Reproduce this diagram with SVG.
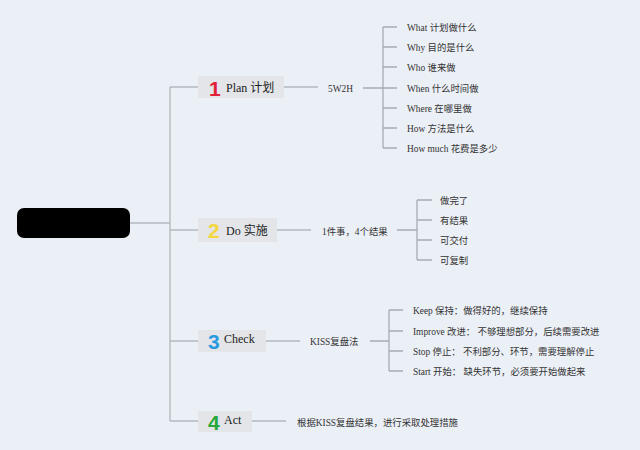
<svg xmlns="http://www.w3.org/2000/svg" width="640" height="450" viewBox="0 0 640 450">
<style>
.bg{fill:#ebeff6}
.box{fill:#e3e5e8}
.trunk{stroke:#b4b8be;stroke-width:1.3;fill:none}
.br{stroke:#a8acb2;stroke-width:1.3;fill:none}
.lbl{font-family:"Liberation Serif","Noto Sans CJK SC",serif;font-size:12px;fill:#222}
.sub{font-family:"Liberation Serif","Noto Sans CJK SC",serif;font-size:9.4px;fill:#333}
.num{font-family:"Liberation Sans",sans-serif;font-weight:bold;font-size:21px}
</style>
<rect class="bg" x="0" y="0" width="640" height="450"/>
<g id="connectors">
<path class="trunk" d="M130 223H170M170 87V421M170 87H198M170 230H198M170 341H198M170 421H198"/>
<path class="trunk" d="M284 87H318M277 230H311M266 341H300M252 421H286"/>
<path class="br" d="M363 88H383M383 27V148M383 27H397M383 47H397M383 67H397M383 88H397M383 108H397M383 128H397M383 148H397"/>
<path class="br" d="M397 230H417M417 200V260M417 200H432M417 220H432M417 240H432M417 260H432"/>
<path class="br" d="M370 341H389M389 310V371M389 310H403M389 331H403M389 351H403M389 371H403"/>
</g>
<g id="root"><rect x="17" y="208" width="113" height="30" rx="7" fill="#000"/></g>
<g id="plan"><rect class="box" x="198" y="76" width="86" height="22"/><text class="num" x="209" y="96" fill="#e3203a">1</text><text class="lbl" x="226" y="92">Plan 计划</text></g>
<g id="do"><rect class="box" x="198" y="218" width="79" height="24"/><text class="num" x="208" y="238" fill="#f4d63e">2</text><text class="lbl" x="226" y="235">Do 实施</text></g>
<g id="check"><rect class="box" x="198" y="330" width="68" height="22"/><text class="num" x="208" y="349" fill="#2a9ae0">3</text><text class="lbl" x="224" y="343">Check</text></g>
<g id="act"><rect class="box" x="198" y="411" width="54" height="21"/><text class="num" x="208" y="430" fill="#27a83a">4</text><text class="lbl" x="224" y="424">Act</text></g>
<g id="w5h2"><text class="sub" x="328" y="91.5">5W2H</text></g>
<g id="plan-items">
<text class="sub" x="407" y="30.5">What 计划做什么</text>
<text class="sub" x="407" y="50.5">Why 目的是什么</text>
<text class="sub" x="407" y="70.5">Who 谁来做</text>
<text class="sub" x="407" y="91.5">When 什么时间做</text>
<text class="sub" x="407" y="111.5">Where 在哪里做</text>
<text class="sub" x="407" y="131.5">How 方法是什么</text>
<text class="sub" x="407" y="151.5">How much 花费是多少</text>
</g>
<g id="do-sub"><text class="sub" x="322" y="234.5">1件事，4个结果</text></g>
<g id="do-items">
<text class="sub" x="440" y="203.5">做完了</text>
<text class="sub" x="440" y="223.5">有结果</text>
<text class="sub" x="440" y="243.5">可交付</text>
<text class="sub" x="440" y="263.5">可复制</text>
</g>
<g id="check-sub"><text class="sub" x="310" y="344.5">KISS复盘法</text></g>
<g id="check-items">
<text class="sub" x="413" y="313.5">Keep 保持：做得好的，继续保持</text>
<text class="sub" x="413" y="334.5">Improve 改进： 不够理想部分，后续需要改进</text>
<text class="sub" x="413" y="354.5">Stop 停止： 不利部分、环节，需要理解停止</text>
<text class="sub" x="413" y="374.5">Start 开始： 缺失环节，必须要开始做起来</text>
</g>
<g id="act-sub"><text class="sub" x="297" y="425.5">根据KISS复盘结果，进行采取处理措施</text></g>
</svg>
